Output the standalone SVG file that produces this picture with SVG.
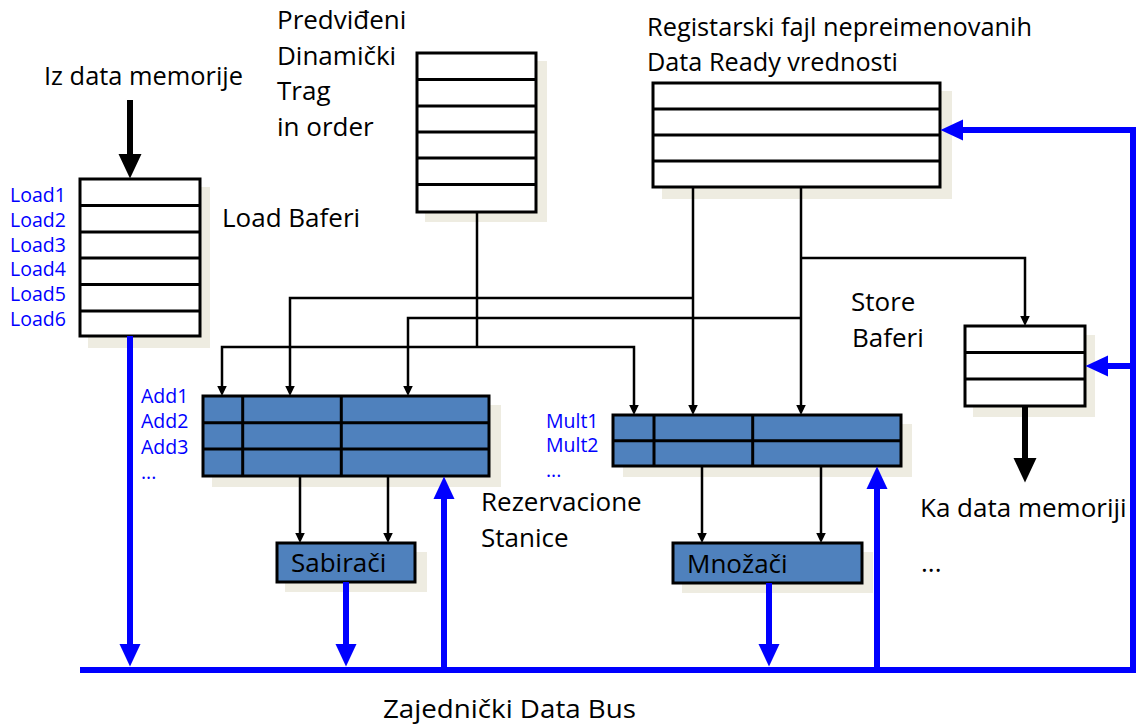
<svg xmlns="http://www.w3.org/2000/svg" width="1141" height="727" viewBox="0 0 1141 727">
<style>
text{font-family:"Open Sans","Noto Sans","DejaVu Sans",sans-serif;fill:#000}
.t{font-size:26px}
.b{font-size:19.5px;fill:#0000FF}
.sh{fill:#EEECE1}
.box{fill:#fff;stroke:#000;stroke-width:3}
.rs{fill:#4F81BD;stroke:#000;stroke-width:3}
.dv{stroke:#000;stroke-width:3;fill:none}
.ln{stroke:#000;stroke-width:2.5;fill:none}
.bl{stroke:#0000FF;stroke-width:6;fill:none}
.bk{stroke:#000;stroke-width:6;fill:none}
</style>
<defs>
<marker id="ah" markerUnits="userSpaceOnUse" markerWidth="11" markerHeight="11" refX="0.5" refY="5.5" orient="auto" viewBox="0 0 11 11"><path d="M0,0.5 L10.5,5.5 L0,10.5 z" fill="#000"/></marker>
<marker id="bh" markerUnits="userSpaceOnUse" markerWidth="23" markerHeight="22" refX="1" refY="11" orient="auto" viewBox="0 0 23 22"><path d="M0,0.5 L22.5,11 L0,21.5 z" fill="#0000FF"/></marker>
<marker id="kh" markerUnits="userSpaceOnUse" markerWidth="25" markerHeight="24" refX="1" refY="12" orient="auto" viewBox="0 0 25 24"><path d="M0,0.5 L24.5,12 L0,23.5 z" fill="#000"/></marker>
</defs>

<g id="load-buffers">
<rect class="sh" x="88" y="187" width="122" height="161"/>
<rect class="box" x="80" y="179" width="120" height="157"/>
<path class="dv" d="M80,205.5H200M80,232H200M80,258H200M80,284.5H200M80,311H200"/>
<text class="b" x="10" y="202">Load1</text>
<text class="b" x="10" y="227">Load2</text>
<text class="b" x="10" y="252">Load3</text>
<text class="b" x="10" y="276">Load4</text>
<text class="b" x="10" y="301">Load5</text>
<text class="b" x="10" y="326">Load6</text>
<text class="t" x="222" y="227">Load Baferi</text>
<text class="t" x="44" y="85" textLength="199" lengthAdjust="spacingAndGlyphs">Iz data memorije</text>
</g>

<g id="predicted-trace">
<rect class="sh" x="425" y="61" width="122" height="161"/>
<rect class="box" x="417" y="53" width="119" height="159"/>
<path class="dv" d="M417,79.5H536M417,106H536M417,132H536M417,158H536M417,184.5H536"/>
<text class="t" x="277" y="29">Predviđeni</text>
<text class="t" x="277" y="64.5">Dinamički</text>
<text class="t" x="277" y="100">Trag</text>
<text class="t" x="277" y="135.5">in order</text>
</g>

<g id="register-file">
<rect class="sh" x="662" y="91" width="290" height="108"/>
<rect class="box" x="653" y="83" width="287" height="104"/>
<path class="dv" d="M653,109H940M653,135H940M653,161H940"/>
<text class="t" x="647" y="36" textLength="385" lengthAdjust="spacingAndGlyphs">Registarski fajl nepreimenovanih</text>
<text class="t" x="647" y="71" textLength="251" lengthAdjust="spacingAndGlyphs">Data Ready vrednosti</text>
</g>

<g id="store-buffers">
<rect class="sh" x="973" y="335" width="122" height="82"/>
<rect class="box" x="965" y="326" width="120" height="80"/>
<path class="dv" d="M965,352.5H1085M965,379H1085"/>
<text class="t" x="851" y="311">Store</text>
<text class="t" x="852" y="347">Baferi</text>
<text class="t" x="920" y="517">Ka data memoriji</text>
<text class="t" x="921" y="572">...</text>
</g>

<g id="add-rs">
<rect class="sh" x="212" y="405" width="289" height="82"/>
<rect class="rs" x="203" y="396" width="286" height="80"/>
<path class="dv" d="M203,422.7H489M203,449H489M242.7,396V476M341.3,396V476"/>
<text class="b" x="141" y="403">Add1</text>
<text class="b" x="141" y="428">Add2</text>
<text class="b" x="141" y="454">Add3</text>
<text class="b" x="141" y="479">...</text>
<text class="t" x="481" y="511">Rezervacione</text>
<text class="t" x="481" y="547">Stanice</text>
</g>

<g id="mult-rs">
<rect class="sh" x="623" y="424" width="289" height="53"/>
<rect class="rs" x="613" y="415" width="288" height="51"/>
<path class="dv" d="M613,440.7H901M654,415V466M752.7,415V466"/>
<text class="b" x="546" y="428">Mult1</text>
<text class="b" x="546" y="452">Mult2</text>
<text class="b" x="546" y="477">...</text>
</g>

<g id="adders">
<rect class="sh" x="285" y="552" width="142" height="40"/>
<rect class="rs" x="277" y="543" width="138" height="39"/>
<text class="t" x="291" y="572">Sabirači</text>
</g>

<g id="multipliers">
<rect class="sh" x="682" y="552" width="191" height="41"/>
<rect class="rs" x="673" y="543" width="189" height="40"/>
<text class="t" x="687" y="573">Množači</text>
</g>

<g id="bus-label">
<text class="t" x="383" y="718" textLength="253" lengthAdjust="spacingAndGlyphs">Zajednički Data Bus</text>
</g>

<g id="connectors">
<path class="ln" d="M477,212V347"/>
<path class="ln" marker-end="url(#ah)" d="M477,347H222V386"/>
<path class="ln" marker-end="url(#ah)" d="M477,347H634V405"/>
<path class="ln" marker-end="url(#ah)" d="M693,187V405"/>
<path class="ln" marker-end="url(#ah)" d="M693,298H290V386"/>
<path class="ln" marker-end="url(#ah)" d="M801,187V405"/>
<path class="ln" marker-end="url(#ah)" d="M801,318H408V386"/>
<path class="ln" marker-end="url(#ah)" d="M801,258H1025V316"/>
<path class="ln" marker-end="url(#ah)" d="M300,476V533"/>
<path class="ln" marker-end="url(#ah)" d="M388,476V533"/>
<path class="ln" marker-end="url(#ah)" d="M702,466V533"/>
<path class="ln" marker-end="url(#ah)" d="M821,466V533"/>
<path class="bk" marker-end="url(#kh)" d="M130,100V155"/>
<path class="bk" marker-end="url(#kh)" d="M1025,406V459"/>
<path class="bl" d="M80,670H1136"/>
<path class="bl" d="M1133,673V127"/>
<path class="bl" marker-end="url(#bh)" d="M1136,130H962"/>
<path class="bl" marker-end="url(#bh)" d="M1133,366H1107"/>
<path class="bl" marker-end="url(#bh)" d="M130,336V645"/>
<path class="bl" marker-end="url(#bh)" d="M346,582V645"/>
<path class="bl" marker-end="url(#bh)" d="M769,583V645"/>
<path class="bl" marker-end="url(#bh)" d="M444,667V498"/>
<path class="bl" marker-end="url(#bh)" d="M877,667V488"/>
</g>
</svg>
